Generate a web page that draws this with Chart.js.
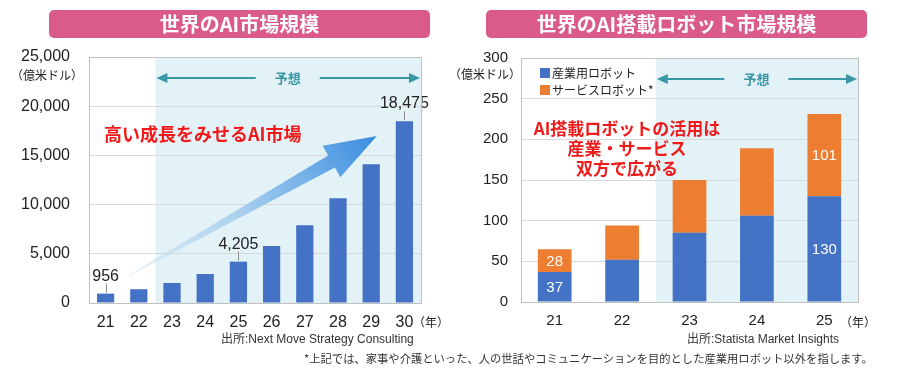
<!DOCTYPE html>
<html lang="ja">
<head>
<meta charset="utf-8">
<script src="https://cdn.jsdelivr.net/npm/chart.js@4/dist/chart.umd.min.js"></script>
<style>
  body { margin: 0; background: #fff; }
  #wrap { position: relative; width: 900px; height: 370px; overflow: hidden; background: #fff;
    font-family: "Liberation Sans", Arial, "Noto Sans CJK JP", sans-serif; color: #222; }
  .box { position: absolute; top: 0; width: 450px; height: 370px; }
  .banner { position: absolute; top: 10px; height: 28px; line-height: 28px; border-radius: 5px;
    background: #da5a8c; color: #fff; font-weight: bold; font-size: 20px; text-align: center;
    font-family: "Noto Sans CJK JP", sans-serif; }
  .unit, .year { position: absolute; font-size: 12px; font-family: "Noto Sans CJK JP", sans-serif;
    text-align: center; line-height: 16px; }
  .src { position: absolute; top: 331px; font-size: 12px; line-height: 16px; white-space: nowrap; color: #333; }
  .note { position: absolute; left: 304px; top: 350px; font-size: 11.3px; line-height: 16px; white-space: nowrap;
    font-family: "Noto Sans CJK JP", sans-serif; color: #333; }
  .red { position: absolute; color: #f01a1a; font-weight: bold; font-size: 18px; white-space: nowrap;
    font-family: "Noto Sans CJK JP", sans-serif; text-align: center; }
</style>
</head>
<body>
<div id="wrap">
  <div class="box" style="left:0"><canvas id="aiChart" width="450" height="370"></canvas></div>
  <div class="box" style="left:450px"><canvas id="robotChart" width="450" height="370"></canvas></div>

  <div class="banner" style="left:49px;width:381px">世界のAI市場規模</div>
  <div class="banner" style="left:486px;width:381px">世界のAI搭載ロボット市場規模</div>

  <div class="unit" style="left:7px;top:67px;width:80px">（億米ドル）</div>
  <div class="unit" style="left:445px;top:66px;width:80px">（億米ドル）</div>
  <div class="year" style="left:411px;top:314px;width:40px">（年）</div>
  <div class="year" style="left:838px;top:314px;width:40px">（年）</div>

  <div class="src" style="left:221px">出所:Next Move Strategy Consulting</div>
  <div class="src" style="left:687px">出所:Statista Market Insights</div>
  <div class="note">*上記では、家事や介護といった、人の世話やコミュニケーションを目的とした産業用ロボット以外を指します。</div>

  <div class="red" style="left:104px;top:122px;line-height:22px">高い成長をみせるAI市場</div>
  <div class="red" style="left:517px;top:118px;width:220px;line-height:20px;font-size:17px">AI搭載ロボットの活用は<br>産業・サービス<br>双方で広がる</div>
</div>

<script>
// left chart: world AI market (100M USD)
const aiYears = ["21", "22", "23", "24", "25", "26", "27", "28", "29", "30"];
const aiMarket = [956, 1400, 2030, 2950, 4205, 5790, 7900, 10640, 14100, 18475];
const aiLabelIdx = [0, 4, 9];
const aiTicks = [0, 5000, 10000, 15000, 20000, 25000];

// right chart: AI robot market (100M USD)
const robotYears = ["21", "22", "23", "24", "25"];
const robotSeries = ["産業用ロボット", "サービスロボット*"];
const industrial = [37, 52, 85, 106, 130];
const service = [28, 42, 65, 83, 101];
const robotLabelIdx = [0, 4];
const robotTicks = [0, 50, 100, 150, 200, 250, 300];

const forecastFrom = 2; // index of first forecast year ("23")

const BLUE = "#4472c4";
const ORANGE = "#ed7d31";
const TEAL = "#3a97a6";
const SHADE = "#e3f2f6";

Chart.defaults.font.family = '"Liberation Sans", Arial, "Noto Sans CJK JP", sans-serif';
Chart.defaults.color = "#222";

function arrowHead(ctx, x, y, dir) {
  ctx.beginPath();
  ctx.moveTo(x, y);
  ctx.lineTo(x - dir * 11, y - 5);
  ctx.lineTo(x - dir * 11, y + 5);
  ctx.closePath();
  ctx.fill();
}

const forecastPlugin = {
  id: "forecast",
  beforeDraw(chart, args, opts) {
    const { ctx, chartArea: a, scales: { x } } = chart;
    const left = (x.getPixelForValue(opts.from - 1) + x.getPixelForValue(opts.from)) / 2;
    ctx.save();
    ctx.fillStyle = SHADE;
    ctx.fillRect(left, a.top, a.right - left, a.bottom - a.top);
    ctx.restore();
  },
  afterDraw(chart, args, opts) {
    const { ctx, chartArea: a, scales: { x } } = chart;
    const left = (x.getPixelForValue(opts.from - 1) + x.getPixelForValue(opts.from)) / 2;
    const right = a.right - 1;
    const cx = (left + right) / 2;
    const y = a.top + 21;
    ctx.save();
    // plot frame
    ctx.strokeStyle = "#c0c0c0";
    ctx.lineWidth = 1;
    ctx.strokeRect(Math.round(a.left) + 0.5, Math.round(a.top) + 0.5, a.right - a.left, a.bottom - a.top);
    // forecast arrow
    ctx.strokeStyle = TEAL;
    ctx.fillStyle = TEAL;
    ctx.lineWidth = 2;
    ctx.beginPath();
    ctx.moveTo(left + 8, y); ctx.lineTo(cx - 32, y);
    ctx.moveTo(cx + 32, y); ctx.lineTo(right - 8, y);
    ctx.stroke();
    arrowHead(ctx, left + 1, y, -1);
    arrowHead(ctx, right, y, 1);
    ctx.font = 'bold 13px "Noto Sans CJK JP", sans-serif';
    ctx.textAlign = "center";
    ctx.textBaseline = "middle";
    ctx.fillText("予想", cx, y);
    ctx.restore();
  }
};

// big gradient arrow on the AI market chart
const growthArrowPlugin = {
  id: "growthArrow",
  afterDatasetsDraw(chart, args, opts) {
    if (!opts.from) return;
    const { ctx, scales: { x, y } } = chart;
    const tx = x.getPixelForValue(opts.from[0]), ty = y.getPixelForValue(opts.from[1]);
    const hx = x.getPixelForValue(opts.to[0]), hy = y.getPixelForValue(opts.to[1]);
    const len = Math.hypot(hx - tx, hy - ty);
    const ux = (hx - tx) / len, uy = (hy - ty) / len;
    const nx = -uy, ny = ux;
    const headLen = 52, headHalf = 18, shaftHead = 7, shaftTail = 0.6;
    const bx = hx - ux * headLen, by = hy - uy * headLen;
    const g = ctx.createLinearGradient(tx, ty, hx, hy);
    g.addColorStop(0, "rgba(200,225,242,0.4)");
    g.addColorStop(0.45, "#a9cfee");
    g.addColorStop(1, "#3a8de0");
    ctx.save();
    ctx.fillStyle = g;
    ctx.beginPath();
    ctx.moveTo(tx + nx * shaftTail, ty + ny * shaftTail);
    ctx.lineTo(bx + nx * shaftHead, by + ny * shaftHead);
    ctx.lineTo(bx + nx * headHalf, by + ny * headHalf);
    ctx.lineTo(hx, hy);
    ctx.lineTo(bx - nx * headHalf, by - ny * headHalf);
    ctx.lineTo(bx - nx * shaftHead, by - ny * shaftHead);
    ctx.lineTo(tx - nx * shaftTail, ty - ny * shaftTail);
    ctx.closePath();
    ctx.fill();
    ctx.restore();
  }
};

// value labels above bars with a short leader line
const leaderLabelPlugin = {
  id: "leaderLabels",
  afterDatasetsDraw(chart, args, opts) {
    if (!opts.idx) return;
    const { ctx } = chart;
    const meta = chart.getDatasetMeta(0);
    const values = chart.data.datasets[0].data;
    ctx.save();
    ctx.strokeStyle = "#8c8c8c";
    ctx.lineWidth = 1;
    ctx.fillStyle = "#222";
    ctx.font = '16px "Liberation Sans", Arial, sans-serif';
    ctx.textAlign = "center";
    ctx.textBaseline = "alphabetic";
    for (const i of opts.idx) {
      const el = meta.data[i];
      const bx = Math.round(el.x) + 0.5;
      ctx.beginPath();
      ctx.moveTo(bx, el.y - 1);
      ctx.lineTo(bx, el.y - 10);
      ctx.stroke();
      ctx.fillText(values[i].toLocaleString("en-US"), el.x, el.y - 13);
    }
    ctx.restore();
  }
};

// white labels inside stacked segments + legend in the plot
const stackLabelPlugin = {
  id: "stackLabels",
  afterDatasetsDraw(chart, args, opts) {
    if (!opts.idx) return;
    const { ctx, chartArea: a } = chart;
    ctx.save();
    ctx.fillStyle = "#fff";
    ctx.font = '15px "Liberation Sans", Arial, sans-serif';
    ctx.textAlign = "center";
    ctx.textBaseline = "middle";
    chart.data.datasets.forEach((ds, d) => {
      const meta = chart.getDatasetMeta(d);
      for (const i of opts.idx) {
        const el = meta.data[i];
        ctx.fillText(String(ds.data[i]), el.x, (el.y + el.base) / 2 + 1);
      }
    });
    // legend
    ctx.font = '12px "Noto Sans CJK JP", sans-serif';
    ctx.textAlign = "left";
    chart.data.datasets.forEach((ds, d) => {
      const ly = a.top + 15 + d * 17;
      ctx.fillStyle = ds.backgroundColor;
      ctx.fillRect(a.left + 19, ly - 5, 10, 10);
      ctx.fillStyle = "#222";
      ctx.fillText(ds.label, a.left + 31, ly);
    });
    ctx.restore();
  }
};

function yScale(ticks, width, pad, size, fmt) {
  return {
    min: ticks[0],
    max: ticks[ticks.length - 1],
    ticks: { stepSize: ticks[1] - ticks[0], padding: pad, font: { size }, color: "#222", callback: fmt },
    grid: { color: "#d9d9d9", drawTicks: false },
    border: { display: false },
    afterFit(s) { s.width = width; }
  };
}

function xScale(size) {
  return {
    grid: { display: false, drawTicks: false },
    border: { display: false },
    ticks: { padding: 10, font: { size }, color: "#222" },
    afterFit(s) { s.height = 30; }
  };
}

new Chart(document.getElementById("aiChart"), {
  type: "bar",
  data: {
    labels: aiYears,
    datasets: [{ data: aiMarket, backgroundColor: BLUE, barPercentage: 0.52, categoryPercentage: 1 }]
  },
  options: {
    responsive: false,
    animation: false,
    layout: { padding: { top: 57, right: 29, bottom: 37, left: 0 } },
    plugins: {
      legend: { display: false },
      tooltip: { enabled: false },
      forecast: { from: forecastFrom },
      growthArrow: { from: [0.73, 2850], to: [8.17, 16970] },
      leaderLabels: { idx: aiLabelIdx }
    },
    scales: {
      x: xScale(16),
      y: yScale(aiTicks, 89, 19, 16, v => v.toLocaleString("en-US"))
    }
  },
  plugins: [forecastPlugin, growthArrowPlugin, leaderLabelPlugin]
});

new Chart(document.getElementById("robotChart"), {
  type: "bar",
  data: {
    labels: robotYears,
    datasets: [
      { label: robotSeries[0], data: industrial, backgroundColor: BLUE, barPercentage: 0.5, categoryPercentage: 1 },
      { label: robotSeries[1], data: service, backgroundColor: ORANGE, barPercentage: 0.5, categoryPercentage: 1 }
    ]
  },
  options: {
    responsive: false,
    animation: false,
    layout: { padding: { top: 58, right: 42, bottom: 38, left: 0 } },
    plugins: {
      legend: { display: false },
      tooltip: { enabled: false },
      forecast: { from: forecastFrom },
      stackLabels: { idx: robotLabelIdx }
    },
    scales: {
      x: Object.assign(xScale(15), { stacked: true }),
      y: Object.assign(yScale(robotTicks, 71, 13, 15), { stacked: true })
    }
  },
  plugins: [forecastPlugin, stackLabelPlugin]
});
</script>
</body>
</html>
